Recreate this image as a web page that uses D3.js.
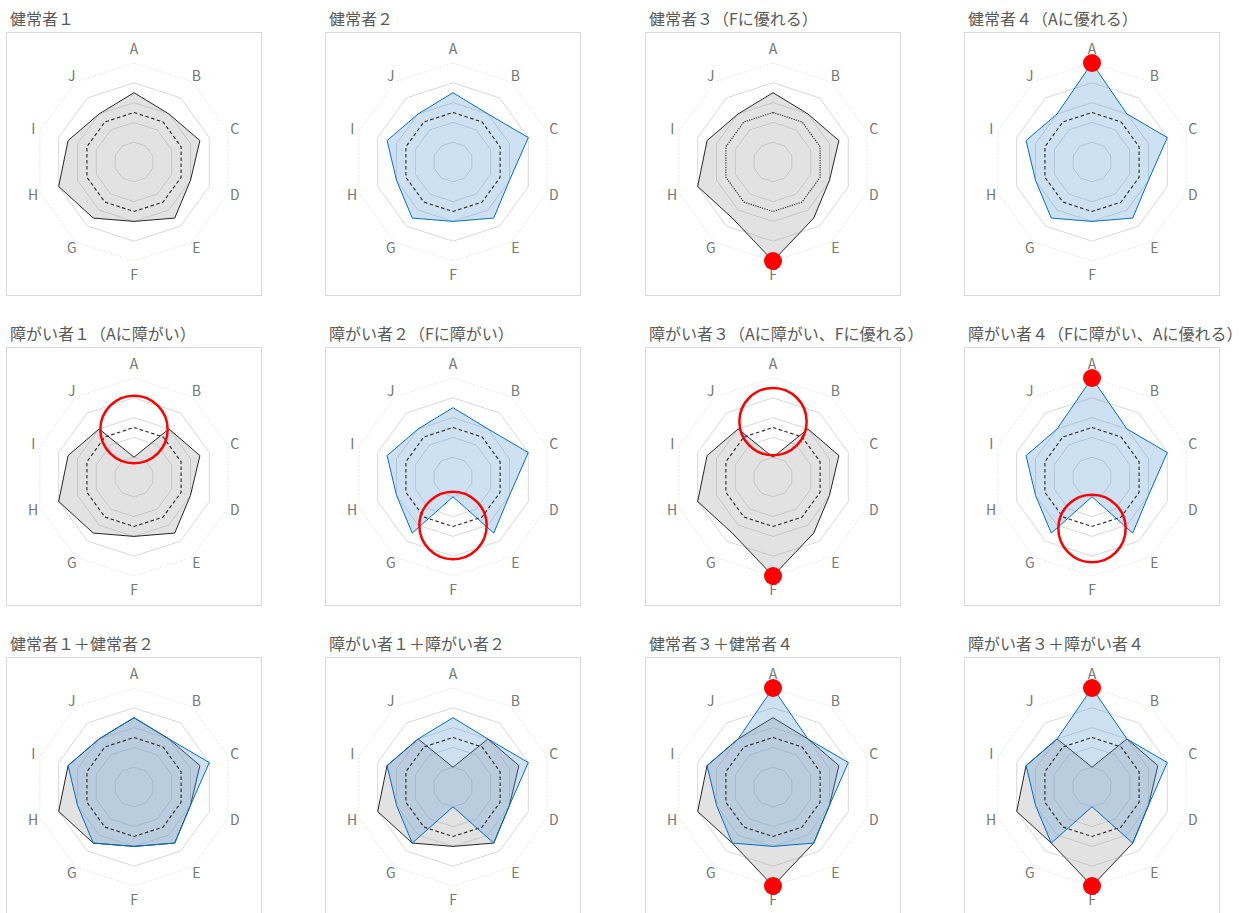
<!DOCTYPE html>
<html>
<head>
<meta charset="utf-8">
<script src="https://cdn.jsdelivr.net/npm/d3@7"></script>
<style>
  body { margin: 0; background: #fff; }
  svg { display: block; font-family: "Noto Sans CJK JP", "Noto Sans", sans-serif; }
</style>
</head>
<body>
<div id="chart"></div>
<script>
// --- DATEN ---
const axes = ["A", "B", "C", "D", "E", "F", "G", "H", "I", "J"];
const average   = [2.5, 2.5, 2.5, 2.5, 2.5, 2.5, 2.5, 2.5, 2.5, 2.5];
const healthy1  = [3.5, 3, 3.5, 3, 3.5, 3, 3.5, 4, 3.5, 3];
const healthy2  = [3.5, 3, 4, 3, 3.5, 3, 3.5, 3, 3.5, 3];
const healthy3  = [3.5, 3, 3.5, 3, 3.5, 5, 3.5, 4, 3.5, 3];
const healthy4  = [5, 3, 4, 3, 3.5, 3, 3.5, 3, 3.5, 3];
const disabled1 = [1, 3, 3.5, 3, 3.5, 3, 3.5, 4, 3.5, 3];
const disabled2 = [3.5, 3, 4, 3, 3.5, 1, 3.5, 3, 3.5, 3];
const disabled3 = [1, 3, 3.5, 3, 3.5, 5, 3.5, 4, 3.5, 3];
const disabled4 = [5, 3, 4, 3, 3.5, 1, 3.5, 3, 3.5, 3];

const titles = [
  "健常者１", "健常者２", "健常者３（Fに優れる）", "健常者４（Aに優れる）",
  "障がい者１（Aに障がい）", "障がい者２（Fに障がい）", "障がい者３（Aに障がい、Fに優れる）", "障がい者４（Fに障がい、Aに優れる）",
  "健常者１＋健常者２", "障がい者１＋障がい者２", "健常者３＋健常者４", "障がい者３＋障がい者４"
];
// graue bzw. blaue Serie je Panel (null = keine)
const graySeries = [healthy1, null, healthy3, null, disabled1, null, disabled3, null, healthy1, disabled1, healthy3, disabled3];
const blueSeries = [null, healthy2, null, healthy4, null, disabled2, null, disabled4, healthy2, disabled2, healthy4, disabled4];
// rote Punkte (Stärken) und rote Kreise (Schwächen)
const strengthDots = [[], [], ["F"], ["A"], [], [], ["F"], ["A"], [], [], ["A", "F"], ["A", "F"]];
const weaknessAxis = [null, null, null, null, "A", "F", "A", "F", null, null, null, null];
const weaknessAt   = [0, 0, 0, 0, 2.4, 2.45, 2.8, 2.6, 0, 0, 0, 0];
const ringLevels = [1, 2, 3, 4, 5];

// --- LAYOUT ---
const width = 1246, height = 913;
const colLeft = [6, 325, 645, 964];
const rowTop = [32, 347, 657];
const rowHeight = [263, 258, 263];
const boxW = 255;
const maxR = 99;

const svg = d3.select("#chart").append("svg")
  .attr("width", width).attr("height", height);

const r = d3.scaleLinear().domain([0, 5]).range([0, maxR]);
const angle = d3.scalePoint().domain(axes).range([0, 2 * Math.PI * (axes.length - 1) / axes.length]);

function pt(axis, v) {
  const a = angle(axis);
  return [r(v) * Math.sin(a), -r(v) * Math.cos(a)];
}
// Beschriftungsabstand: oben/unten etwas weiter außen
function labelR(axis) {
  return Math.abs(Math.cos(angle(axis))) > 0.9 ? 113 : 106;
}
const radarLine = d3.lineRadial()
  .angle((d, i) => angle(axes[i]))
  .radius(d => r(d))
  .curve(d3.curveLinearClosed);

titles.forEach((title, idx) => {
  const row = Math.floor(idx / 4), col = idx % 4;
  const x0 = colLeft[col], y0 = rowTop[row];

  svg.append("text")
    .attr("x", x0 + 4).attr("y", y0 - 7)
    .attr("font-size", 16).attr("fill", "#595959")
    .text(title);

  svg.append("rect")
    .attr("x", x0 + 0.5).attr("y", y0 + 0.5)
    .attr("width", boxW).attr("height", rowHeight[row])
    .attr("fill", "#fff").attr("stroke", "#d9d9d9");

  const g = svg.append("g")
    .attr("transform", `translate(${x0 + boxW / 2 + 0.5}, ${y0 + 130})`);

  // Gitternetz
  g.selectAll("path.ring").data(ringLevels).join("path")
    .attr("class", "ring")
    .attr("d", lvl => radarLine(axes.map(() => lvl)))
    .attr("fill", "none")
    .attr("stroke", lvl => lvl === 5 ? "#e8e8e8" : "#d9d9d9")
    .attr("stroke-dasharray", lvl => lvl === 5 ? "2,1.5" : null)
    .attr("stroke-width", 1);

  // Achsenbeschriftung
  g.selectAll("text.ax").data(axes).join("text")
    .attr("class", "ax")
    .attr("x", a => labelR(a) * Math.sin(angle(a)))
    .attr("y", a => -labelR(a) * Math.cos(angle(a)))
    .attr("dy", "0.36em")
    .attr("text-anchor", "middle")
    .attr("font-size", 14).attr("fill", "#767676")
    .text(a => a);

  if (graySeries[idx]) {
    g.append("path")
      .attr("d", radarLine(graySeries[idx]))
      .attr("fill", "#a6a6a6").attr("fill-opacity", 0.33)
      .attr("stroke", "#262626").attr("stroke-width", 1);
  }
  if (blueSeries[idx]) {
    g.append("path")
      .attr("d", radarLine(blueSeries[idx]))
      .attr("fill", "#5b9bd5").attr("fill-opacity", 0.3)
      .attr("stroke", "#0070c0").attr("stroke-width", 1);
  }

  // Durchschnitt
  g.append("path")
    .attr("d", radarLine(average))
    .attr("fill", "none")
    .attr("stroke", "#262626").attr("stroke-width", 1.1)
    .attr("stroke-dasharray", idx === 2 ? "1.2,1.2" : "3.5,2.5");

  // rote Kreise (Schwächen)
  if (weaknessAxis[idx]) {
    const [cx, cy] = pt(weaknessAxis[idx], weaknessAt[idx]);
    g.append("circle")
      .attr("cx", cx).attr("cy", cy).attr("r", r(1.7))
      .attr("fill", "none").attr("stroke", "#ff0000").attr("stroke-width", 2.5);
  }

  // rote Punkte (Stärken)
  const src = graySeries[idx] && blueSeries[idx] ? null : (graySeries[idx] || blueSeries[idx]);
  strengthDots[idx].forEach(a => {
    const i = axes.indexOf(a);
    let v;
    if (src) v = src[i];
    else v = Math.max(graySeries[idx][i], blueSeries[idx][i]);
    const [cx, cy] = pt(a, v);
    g.append("circle")
      .attr("cx", cx).attr("cy", cy).attr("r", 9)
      .attr("fill", "#ff0000");
  });
});
</script>
</body>
</html>
